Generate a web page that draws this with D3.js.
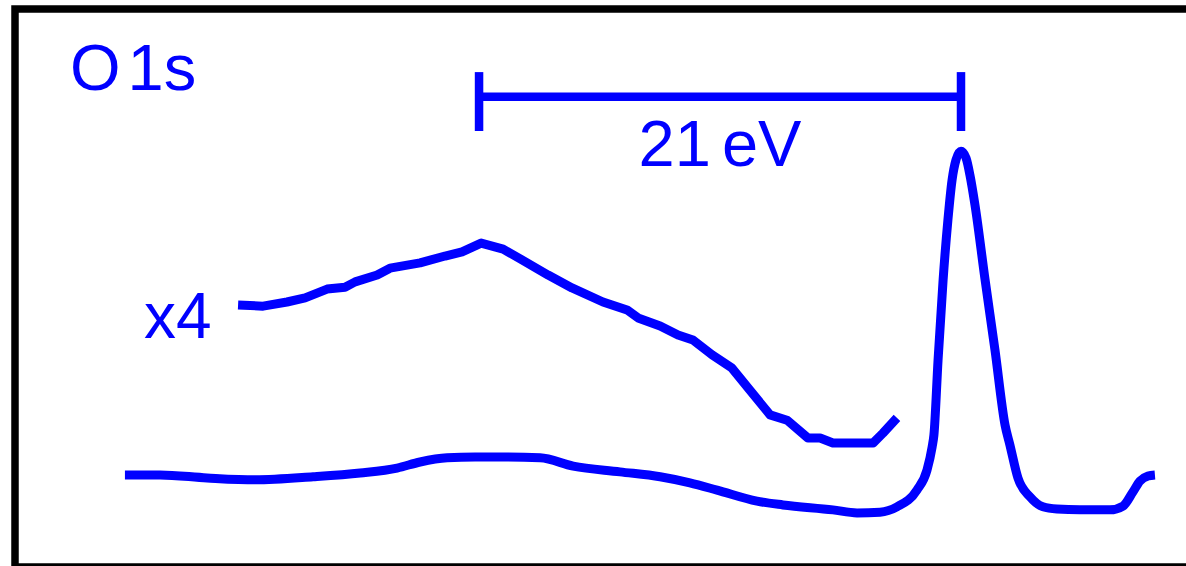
<!DOCTYPE html>
<html>
<head>
<meta charset="utf-8">
<script src="https://cdn.jsdelivr.net/npm/d3@7"></script>
<style>
  html, body { margin: 0; padding: 0; background: #fff; }
  svg { display: block; }
  text { font-family: "Liberation Sans", Arial, Helvetica, sans-serif; fill: #0000ff; }
</style>
</head>
<body>
<script>
// Energy relative to the O 1s main peak (eV), and intensity (arb. units)
const mainEnergy = [-36.43, -34.90, -32.85, -30.76, -28.23, -26.18, -24.57, -23.57, -22.39, -21.17,
  -20.09, -18.34, -16.90, -14.86, -13.11, -11.81, -10.63, -8.89, -7.76, -5.58,
  -4.53, -3.53, -2.79, -1.92, -1.48, -1.26, -1.18, -1.00, -0.78, -0.57,
  -0.39, -0.22, 0.00, 0.22, 0.39, 0.61, 1.05, 1.48, 1.92, 2.13,
  2.48, 3.01, 3.57, 4.18, 5.18, 6.49, 7.06, 7.49, 7.80, 8.15, 8.45];
const mainIntensity = [14.5, 14.5, 13.7, 13.2, 14.0, 15.0, 16.3, 17.9, 19.0, 19.2,
  19.2, 19.0, 16.8, 15.3, 14.0, 12.4, 10.5, 7.6, 6.6, 5.3,
  4.5, 4.7, 6.1, 10.5, 15.8, 21.8, 25.0, 44.7, 65.8, 81.6,
  92.1, 97.4, 99.7, 97.9, 93.4, 85.5, 65.8, 47.4, 27.6, 22.4,
  13.7, 8.7, 6.1, 5.5, 5.3, 5.3, 6.3, 10.0, 12.9, 14.2, 14.5];

// Loss region magnified x4 (offset vertically)
const x4Energy = [-31.50, -30.41, -29.37, -28.58, -27.62, -26.84, -26.40, -25.44, -24.88, -23.57,
  -22.48, -21.74, -20.91, -19.95, -19.13, -17.99, -16.95, -15.60, -14.55, -14.07,
  -13.11, -12.33, -11.68, -10.85, -9.98, -9.28, -8.32, -7.58, -6.67, -6.14,
  -5.58, -3.83, -3.40, -2.79];
const x4Intensity = [59.2, 58.9, 60.0, 61.1, 63.4, 63.9, 65.3, 67.1, 68.9, 70.3,
  72.1, 73.2, 75.5, 73.9, 71.1, 67.1, 63.7, 60.0, 57.9, 55.8,
  53.7, 51.3, 50.0, 46.1, 42.6, 37.4, 30.3, 28.9, 24.2, 24.2,
  22.9, 22.9, 25.5, 29.5];

// Scale bar: 21 eV ending at the main peak
const scaleBarEnergy = [-21, 0];
const scaleBarLabel = "21 eV";
const peakLabel = "O 1s";
const magLabel = "x4";

const W = 1186, H = 566;
const blue = "#0000ff";

const svg = d3.select("body").append("svg").attr("width", W).attr("height", H);

const x = d3.scaleLinear().domain([-40, 10]).range([43, 1190.5]);
const y = d3.scaleLinear().domain([0, 100]).range([530, 150]);

// frame
svg.append("rect")
  .attr("x", 15).attr("y", 9)
  .attr("width", 1200).attr("height", 558)
  .attr("fill", "none").attr("stroke", "#000").attr("stroke-width", 7.5);

const mainData = mainEnergy.map((e, i) => ({e, v: mainIntensity[i]}));
const x4Data = x4Energy.map((e, i) => ({e, v: x4Intensity[i]}));

svg.append("path")
  .datum(mainData)
  .attr("fill", "none").attr("stroke", blue).attr("stroke-width", 9)
  .attr("stroke-linejoin", "round")
  .attr("d", d3.line().x(d => x(d.e)).y(d => y(d.v)).curve(d3.curveMonotoneX));

svg.append("path")
  .datum(x4Data)
  .attr("fill", "none").attr("stroke", blue).attr("stroke-width", 9)
  .attr("stroke-linejoin", "round")
  .attr("d", d3.line().x(d => x(d.e)).y(d => y(d.v)));

// scale bar
const barY = y(114), tickTop = y(120.5), tickBot = y(105);
const bar = svg.append("g").attr("stroke", blue).attr("stroke-width", 8.5);
bar.append("line").attr("x1", x(scaleBarEnergy[0])).attr("x2", x(scaleBarEnergy[1]))
  .attr("y1", barY).attr("y2", barY);
scaleBarEnergy.forEach(e => {
  bar.append("line").attr("x1", x(e)).attr("x2", x(e)).attr("y1", tickTop).attr("y2", tickBot);
});

svg.append("text")
  .attr("x", (x(scaleBarEnergy[0]) + x(scaleBarEnergy[1])) / 2)
  .attr("y", 166)
  .attr("text-anchor", "middle")
  .attr("font-size", 65)
  .attr("word-spacing", -7)
  .text(scaleBarLabel);

svg.append("text")
  .attr("x", 70).attr("y", 90)
  .attr("font-size", 65)
  .attr("word-spacing", -11)
  .text(peakLabel);

svg.append("text")
  .attr("x", 144).attr("y", 338)
  .attr("font-size", 64)
  .text(magLabel);
</script>
</body>
</html>
